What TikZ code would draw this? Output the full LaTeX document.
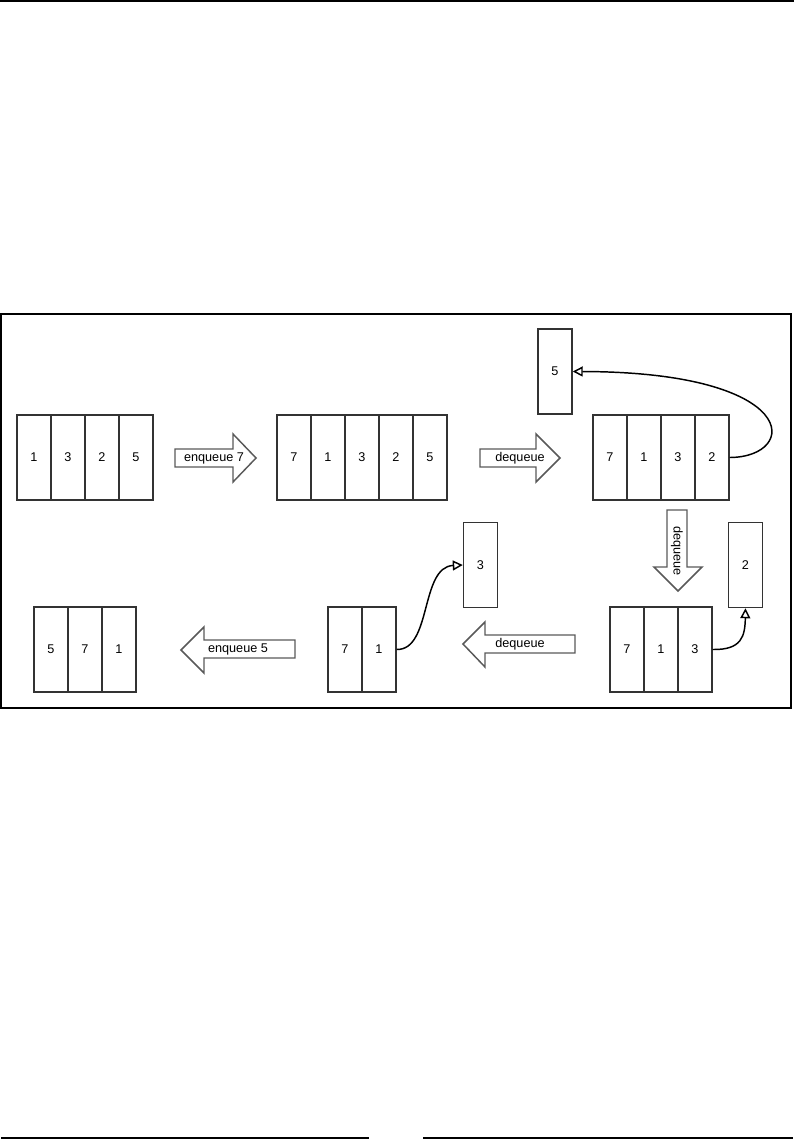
\documentclass[tikz,border=0pt]{standalone}
\usepackage{fontspec}
\setmainfont{Liberation Sans}
\usetikzlibrary{arrows.meta}

\begin{document}
\begin{tikzpicture}[x=0.75pt,y=-0.75pt,
    cell/.style={draw=black!80, line width=1.1pt, minimum width=25.5pt,
      minimum height=63.75pt, inner sep=0pt, font=\fontsize{9.5}{11}\selectfont},
    bigarrow/.style={draw=black!65, line width=1.1pt, line join=miter},
    lbl/.style={inner sep=0pt, font=\fontsize{9.5}{11}\selectfont},
    link/.style={line width=1.1pt, -{Triangle[open,length=7.5pt,width=7.5pt]}}]
    \useasboundingbox (0,0) rectangle (794,1142);

    % Page rules
    \draw[line width=1.1pt] (0,1) -- (794,1);
    \draw[line width=1.1pt] (1,1138) -- (369,1138);
    \draw[line width=1.1pt] (423,1138) -- (793,1138);

    % Frame
    \draw[line width=0.8pt] (1,314) rectangle (791,708);

    % Queues, top row
    \foreach \v [count=\i] in {1,3,2,5}
        \node[cell] (qa\i) at ({34*\i},457.5) {\v};
    \foreach \v [count=\i] in {7,1,3,2,5}
        \node[cell] (qb\i) at ({260+34*\i},457.5) {\v};
    \foreach \v [count=\i] in {7,1,3,2}
        \node[cell] (qc\i) at ({576+34*\i},457.5) {\v};

    % Queues, bottom row
    \foreach \v [count=\i] in {7,1,3}
        \node[cell] (qd\i) at ({593+34*\i},649.5) {\v};
    \foreach \v [count=\i] in {7,1}
        \node[cell] (qe\i) at ({311+34*\i},649.5) {\v};
    \foreach \v [count=\i] in {5,7,1}
        \node[cell] (qf\i) at ({17+34*\i},649.5) {\v};

    % Dequeued items
    \node[cell] (outa) at (555,371.5) {5};
    \node[cell] (outb) at (745.5,565) {2};
    \node[cell] (outc) at (480.5,565) {3};

    % Block arrows
    \draw[bigarrow] (175,449) -- (233,449) -- (233,434) -- (256,458)
        -- (233,482) -- (233,467) -- (175,467) -- cycle;
    \node[lbl] (enqa) at (214,458) {enqueue 7};

    \draw[bigarrow] (480,449) -- (536,449) -- (536,434) -- (560,458)
        -- (536,482) -- (536,467) -- (480,467) -- cycle;
    \node[lbl] (deqa) at (520,458) {dequeue};

    \draw[bigarrow] (667,510) -- (667,567) -- (654,567) -- (678,591)
        -- (702,567) -- (687,567) -- (687,510) -- cycle;
    \node[lbl, rotate=-90] (deqb) at (677,551) {dequeue};

    \draw[bigarrow] (575,635) -- (485,635) -- (485,622) -- (463,644)
        -- (485,667) -- (485,653) -- (575,653) -- cycle;
    \node[lbl] (deqc) at (520,644) {dequeue};

    \draw[bigarrow] (295,640) -- (204,640) -- (204,627) -- (181,650)
        -- (204,673) -- (204,658) -- (295,658) -- cycle;
    \node[lbl] (enqb) at (238,649) {enqueue 5};

    % Removed items
    \draw[link] (qc4.east) .. controls (800,457) and (802,372) .. (outa.east);
    \draw[link] (qd3.east) .. controls (742,650) and (745,636) .. (outb.south);
    \draw[link] (qe2.east) .. controls (432,650) and (420,567) .. (outc.west);
\end{tikzpicture}
\end{document}
